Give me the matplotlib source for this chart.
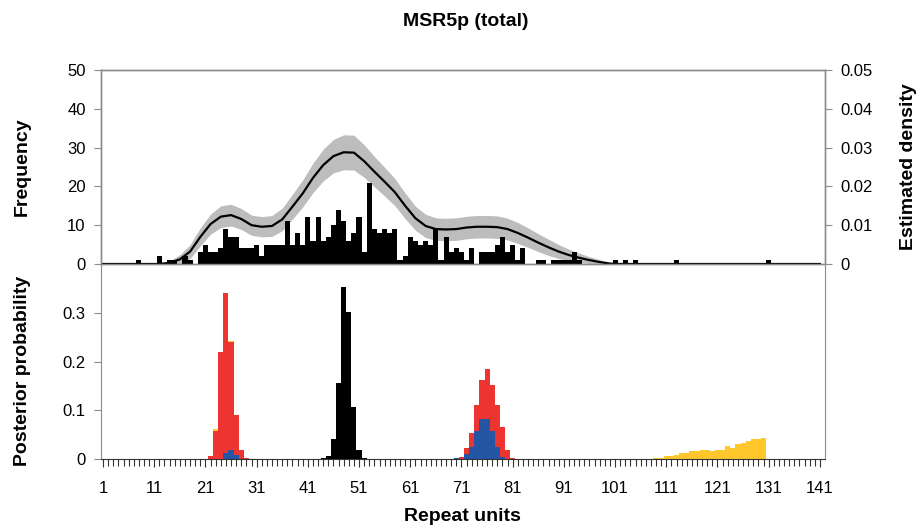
import numpy as np
import matplotlib
matplotlib.use("Agg")
import matplotlib.pyplot as plt
from matplotlib.ticker import FixedLocator

plt.rcParams['font.family'] = ['Liberation Sans', 'DejaVu Sans']

# ── data ───────────────────────────────────────────────────────────────────────

repeat_units = np.arange(1, 142)

# observed allele counts per repeat unit (top histogram)
freq_nonzero = {
    8: 1, 12: 2, 14: 1, 15: 1, 17: 2, 18: 1, 20: 3, 21: 5, 22: 3, 23: 3,
    24: 4, 25: 9, 26: 7, 27: 7, 28: 4, 29: 4, 30: 4, 31: 5, 32: 2, 33: 5,
    34: 5, 35: 5, 36: 5, 37: 11, 38: 5, 39: 8, 40: 5, 41: 12, 42: 6, 43: 12,
    44: 6, 45: 7, 46: 10, 47: 14, 48: 11, 49: 6, 50: 8, 51: 12, 52: 3, 53: 21,
    54: 9, 55: 8, 56: 9, 57: 8, 58: 9, 59: 1, 60: 2, 61: 7, 62: 6, 63: 5,
    64: 6, 65: 5, 66: 9, 67: 1, 68: 7, 69: 3, 70: 4, 71: 3, 72: 1, 73: 4,
    75: 3, 76: 3, 77: 3, 78: 5, 79: 7, 80: 3, 81: 5, 82: 1, 83: 4, 86: 1,
    87: 1, 89: 1, 90: 1, 91: 1, 92: 1, 93: 3, 94: 1, 101: 1, 103: 1, 105: 1,
    113: 1, 131: 1,
}
frequency = [freq_nonzero.get(u, 0) for u in repeat_units]

# estimated density with its grey confidence band
dens_x = [1, 12, 14, 16, 18, 20, 22, 24, 26, 28, 30, 32, 34, 36, 38, 40, 42, 44,
          46, 48, 50, 52, 54, 56, 58, 60, 62, 64, 66, 68, 70, 72, 74, 76, 78, 80,
          82, 84, 86, 88, 90, 92, 94, 96, 98, 100, 102, 141]
dens_y = [0, 0, 0.0003, 0.0012, 0.0032, 0.0070, 0.0103, 0.0122, 0.0126, 0.0116,
          0.0100, 0.0096, 0.0098, 0.0115, 0.0148, 0.0182, 0.0222, 0.0255, 0.0278,
          0.0288, 0.0287, 0.0265, 0.0238, 0.0212, 0.0185, 0.0150, 0.0118, 0.0098,
          0.0090, 0.0089, 0.0090, 0.0094, 0.0096, 0.0096, 0.0095, 0.0090, 0.0080,
          0.0068, 0.0055, 0.0043, 0.0032, 0.0023, 0.0016, 0.0010, 0.0005, 0.0001,
          0, 0]
dens_lo = [0, 0, 0, 0, 0.0014, 0.0047, 0.0077, 0.0094, 0.0098, 0.0089, 0.0074,
           0.0070, 0.0071, 0.0086, 0.0116, 0.0147, 0.0184, 0.0214, 0.0235, 0.0243,
           0.0242, 0.0223, 0.0199, 0.0175, 0.0150, 0.0117, 0.0087, 0.0068, 0.0061,
           0.0060, 0.0061, 0.0065, 0.0067, 0.0067, 0.0066, 0.0062, 0.0053, 0.0043,
           0.0032, 0.0022, 0.0014, 0.0008, 0.0004, 0.0001, 0, 0, 0, 0]
dens_hi = [0, 0.0003, 0.0008, 0.0024, 0.0050, 0.0093, 0.0129, 0.0150, 0.0154,
           0.0143, 0.0126, 0.0122, 0.0125, 0.0144, 0.0180, 0.0217, 0.0260, 0.0296,
           0.0321, 0.0333, 0.0332, 0.0307, 0.0277, 0.0249, 0.0220, 0.0183, 0.0149,
           0.0128, 0.0119, 0.0118, 0.0119, 0.0123, 0.0125, 0.0125, 0.0124, 0.0118,
           0.0107, 0.0093, 0.0078, 0.0064, 0.0050, 0.0038, 0.0028, 0.0019, 0.0011,
           0.0004, 0, 0]

# posterior probabilities of the component locations (bottom panel)
black_units = [44, 45, 46, 47, 48, 49, 50, 51, 52]
black_post = [0.003, 0.007, 0.041, 0.156, 0.352, 0.302, 0.107, 0.018, 0.003]

red_units = [22, 23, 24, 25, 26, 27, 28, 29,
             70, 71, 72, 73, 74, 75, 76, 77, 78, 79, 80, 81]
red_post = [0.007, 0.058, 0.220, 0.341, 0.239, 0.090, 0.018, 0.003,
            0.002, 0.004, 0.023, 0.054, 0.110, 0.163, 0.184, 0.151, 0.110, 0.065,
            0.018, 0.002]

blue_units = [25, 26, 27, 70, 72, 73, 74, 75, 76, 77, 78, 79]
blue_post = [0.012, 0.018, 0.008, 0.003, 0.010, 0.024, 0.057, 0.082, 0.082,
             0.057, 0.024, 0.004]

yellow_units = [23, 26] + list(range(109, 131))
yellow_post = [0.061, 0.243,
               0.003, 0.003, 0.007, 0.007, 0.009, 0.013, 0.013, 0.017, 0.017,
               0.019, 0.019, 0.017, 0.019, 0.019, 0.027, 0.023, 0.031, 0.033,
               0.037, 0.041, 0.041, 0.044]

xtick_labels = [1, 11, 21, 31, 41, 51, 61, 71, 81, 91, 101, 111, 121, 131, 141]
freq_ticks = [0, 10, 20, 30, 40, 50]
dens_ticks = [0, 0.01, 0.02, 0.03, 0.04, 0.05]
dens_tick_labels = ['0', '0.01', '0.02', '0.03', '0.04', '0.05']
post_ticks = [0, 0.1, 0.2, 0.3]
post_tick_labels = ['0', '0.1', '0.2', '0.3']

# ── styling ────────────────────────────────────────────────────────────────────

SPINE = '#8c8c8c'
BAND = '#bdbdbd'
RED = '#ee3431'
BLUE = '#2456a6'
YELLOW = '#ffc72c'
TICK_FS = 12
LABEL_FS = 14

fig = plt.figure(figsize=(9.19, 5.28), dpi=100)
left, width = 101 / 919, 724 / 919
ax_top = fig.add_axes([left, 0.5, width, 194 / 528])
ax_bot = fig.add_axes([left, 1 - 459 / 528, width, 195 / 528])
ax_den = ax_top.twinx()
xlim = (0.6, 142.0)

# ── top panel: histogram + density ────────────────────────────────────────────

# density band sits behind the bars, the curve in front of them
ax_top.set_zorder(ax_den.get_zorder() + 1)
ax_top.patch.set_visible(False)

ax_den.fill_between(dens_x, dens_lo, dens_hi, color=BAND, lw=0)
ax_top.bar(repeat_units, frequency, width=1.0, color='black', lw=0)
ax_top.plot(dens_x, dens_y, color='black', lw=1.6, transform=ax_den.transData,
            solid_joinstyle='round')

ax_top.set_xlim(*xlim)
ax_top.set_ylim(0, 50)
ax_den.set_ylim(0, 0.05)
ax_top.set_yticks(freq_ticks)
ax_den.set_yticks(dens_ticks)
ax_den.set_yticklabels(dens_tick_labels)
ax_top.set_xticks([])

for a in (ax_top, ax_den):
    for s in a.spines.values():
        s.set_color(SPINE)
        s.set_linewidth(1.0)
ax_top.tick_params(axis='y', direction='out', length=5, color=SPINE,
                   labelsize=TICK_FS, pad=6)
ax_den.tick_params(axis='y', direction='out', length=5, color=SPINE,
                   labelsize=TICK_FS, pad=6)

ax_top.set_ylabel('Frequency', fontsize=LABEL_FS, fontweight='bold')
ax_top.yaxis.set_label_coords(-0.097, 0.5)
ax_den.set_ylabel('Estimated density', fontsize=LABEL_FS, fontweight='bold')
ax_den.yaxis.set_label_coords(1.104, 0.5)

# ── bottom panel: posterior probabilities ─────────────────────────────────────

ax_bot.bar(yellow_units, yellow_post, width=1.0, color=YELLOW, lw=0)
ax_bot.bar(red_units, red_post, width=1.0, color=RED, lw=0)
ax_bot.bar(blue_units, blue_post, width=1.0, color=BLUE, lw=0)
ax_bot.bar(black_units, black_post, width=1.0, color='black', lw=0)

ax_bot.set_xlim(*xlim)
ax_bot.set_ylim(0, 0.4)
ax_bot.set_yticks(post_ticks)
ax_bot.set_yticklabels(post_tick_labels)
ax_bot.set_xticks(xtick_labels)
ax_bot.set_xticklabels([str(v) for v in xtick_labels])
ax_bot.xaxis.set_minor_locator(FixedLocator(list(repeat_units)))

ax_bot.spines['top'].set_visible(False)
for side in ('left', 'right'):
    ax_bot.spines[side].set_color(SPINE)
ax_bot.spines['bottom'].set_color('#333333')
ax_bot.tick_params(axis='y', direction='out', length=5, color=SPINE,
                   labelsize=TICK_FS, pad=6)
ax_bot.tick_params(axis='x', which='major', direction='out', length=6,
                   color='#333333', labelsize=TICK_FS, pad=10)
ax_bot.tick_params(axis='x', which='minor', direction='out', length=5,
                   color='#333333', width=0.8)

ax_bot.set_ylabel('Posterior probability', fontsize=LABEL_FS, fontweight='bold')
ax_bot.yaxis.set_label_coords(-0.097, 0.45)
ax_bot.set_xlabel('Repeat units', fontsize=LABEL_FS, fontweight='bold')
ax_bot.xaxis.set_label_coords(0.4986, -0.252)

fig.text(0.507, 1 - 22 / 528, 'MSR5p (total)', ha='center', va='center',
         fontsize=LABEL_FS, fontweight='bold')

fig.savefig('out.png', dpi=100)
